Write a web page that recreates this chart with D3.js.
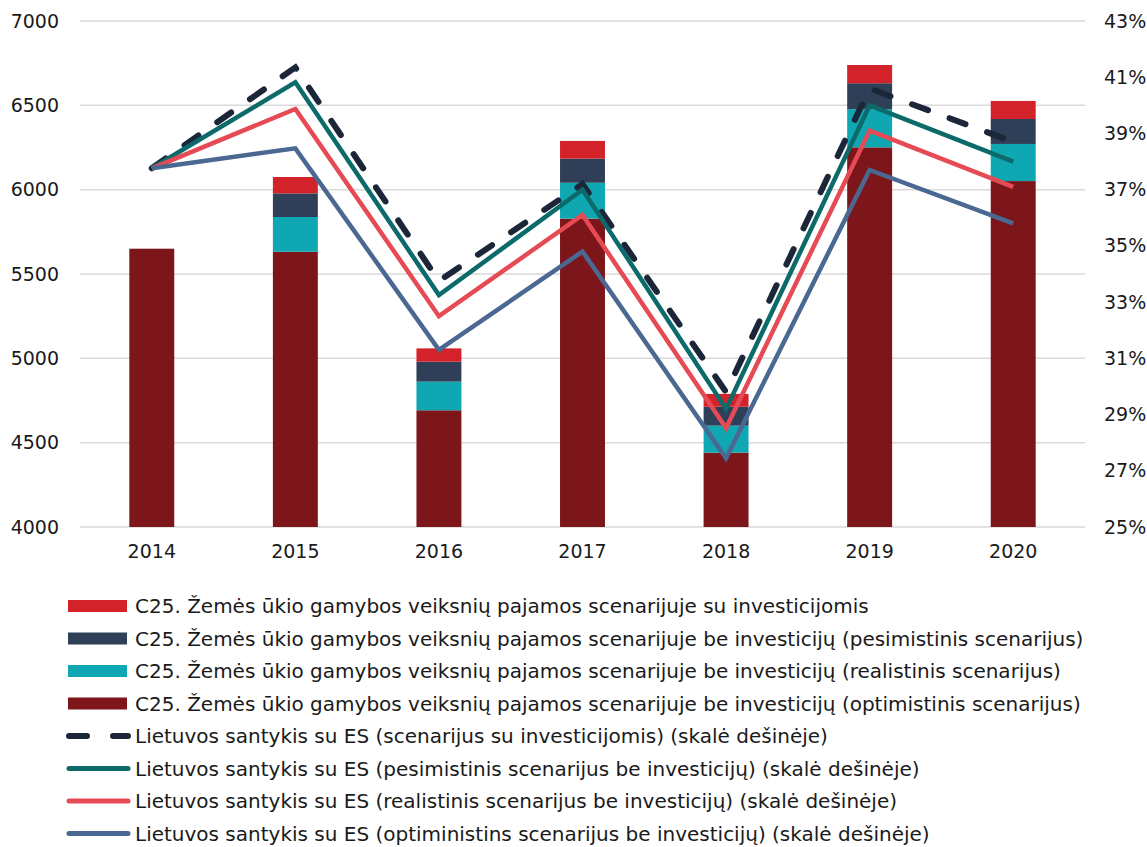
<!DOCTYPE html>
<html>
<head>
<meta charset="utf-8">
<script src="https://cdn.jsdelivr.net/npm/d3@7"></script>
<style>
  html, body { margin: 0; padding: 0; background: #ffffff; }
  svg { display: block; }
  text { font-family: "DejaVu Sans", Verdana, sans-serif; fill: #1a1a1a; }
</style>
</head>
<body>
<svg id="chart" width="1147" height="847"></svg>
<script>
// Years on the category axis
const years = ["2014", "2015", "2016", "2017", "2018", "2019", "2020"];

// Stacked bar segments (EUR), bottom to top
const incomeOptimistic  = [5650, 5632, 4692, 5828, 4441, 6251, 6051];
const incomeRealistic   = [0, 206, 170, 213, 160, 226, 220];
const incomePessimistic = [0, 140, 118, 143, 112, 154, 148];
const incomeInvestment  = [0, 97, 79, 105, 76, 108, 107];

// Ratio to EU average (%), right-hand scale
const ratioInvestment  = [37.76, 41.35, 33.75, 37.2, 29.8, 40.6, 38.7];
const ratioPessimistic = [37.76, 40.82, 33.25, 37.0, 29.2, 40.0, 38.0];
const ratioRealistic   = [37.76, 39.87, 32.5, 36.1, 28.52, 39.1, 37.1];
const ratioOptimistic  = [37.76, 38.47, 31.3, 34.8, 27.45, 37.7, 35.8];

// Tick values
const leftTicks  = [4000, 4500, 5000, 5500, 6000, 6500, 7000];
const rightTicks = [25, 27, 29, 31, 33, 35, 37, 39, 41, 43];

const barSeries = [
  { name: "C25. Žemės ūkio gamybos veiksnių pajamos scenarijuje be investicijų (optimistinis scenarijus)", values: incomeOptimistic,  color: "#7c161a" },
  { name: "C25. Žemės ūkio gamybos veiksnių pajamos scenarijuje be investicijų (realistinis scenarijus)",  values: incomeRealistic,   color: "#0fa7b2" },
  { name: "C25. Žemės ūkio gamybos veiksnių pajamos scenarijuje be investicijų (pesimistinis scenarijus)", values: incomePessimistic, color: "#2e3f57" },
  { name: "C25. Žemės ūkio gamybos veiksnių pajamos scenarijuje su investicijomis",                        values: incomeInvestment,  color: "#d3222a" }
];

const lineSeries = [
  { name: "Lietuvos santykis su ES (scenarijus su investicijomis) (skalė dešinėje)",            values: ratioInvestment,  color: "#1b2739", dashed: true },
  { name: "Lietuvos santykis su ES (pesimistinis scenarijus be investicijų) (skalė dešinėje)",   values: ratioPessimistic, color: "#0d6a6a" },
  { name: "Lietuvos santykis su ES (realistinis scenarijus be investicijų) (skalė dešinėje)",    values: ratioRealistic,   color: "#e64b55" },
  { name: "Lietuvos santykis su ES (optiministins scenarijus be investicijų) (skalė dešinėje)",  values: ratioOptimistic,  color: "#4a6891" }
];

const svg = d3.select("#chart");
const plot = { left: 80, right: 1085, top: 21, bottom: 527 };

const x = d3.scaleBand()
  .domain(years)
  .range([plot.left, plot.right])
  .paddingInner(0.687)
  .paddingOuter(0.3435);

const yLeft = d3.scaleLinear().domain([4000, 7000]).range([plot.bottom, plot.top]);
const yRight = d3.scaleLinear().domain([25, 43]).range([plot.bottom, plot.top]);

// Bars start at the axis floor, so clip them to the plotting area
svg.append("defs").append("clipPath").attr("id", "plot-clip")
  .append("rect")
  .attr("x", plot.left).attr("y", 0)
  .attr("width", plot.right - plot.left)
  .attr("height", plot.bottom);

// Horizontal gridlines
svg.append("g")
  .selectAll("line")
  .data(leftTicks)
  .join("line")
  .attr("x1", plot.left)
  .attr("x2", plot.right)
  .attr("y1", d => yLeft(d))
  .attr("y2", d => yLeft(d))
  .attr("stroke", "#d9d9d9")
  .attr("stroke-width", 1.5);

const tickFont = g => g.selectAll("text")
  .style("font-size", "19px")
  .style("font-family", "DejaVu Sans, sans-serif")
  .attr("fill", "#1a1a1a");

// Left axis labels
const gl = svg.append("g").attr("transform", "translate(59,0)")
  .call(d3.axisLeft(yLeft).tickValues(leftTicks).tickSize(0).tickPadding(0).tickFormat(d3.format("d")));
gl.select(".domain").remove();
tickFont(gl);

// Right axis labels
const gr = svg.append("g").attr("transform", "translate(1104,0)")
  .call(d3.axisRight(yRight).tickValues(rightTicks).tickSize(0).tickPadding(0).tickFormat(d => d + "%"));
gr.select(".domain").remove();
tickFont(gr);

// Category labels
const gb = svg.append("g").attr("transform", `translate(0,${plot.bottom + 17})`)
  .call(d3.axisBottom(x).tickSize(0).tickPadding(0));
gb.select(".domain").remove();
tickFont(gb);

// Stacked bars
const stackRows = years.map((yr, i) => {
  const row = { year: yr };
  barSeries.forEach((s, k) => { row["s" + k] = s.values[i]; });
  return row;
});
const stacked = d3.stack().keys(barSeries.map((s, k) => "s" + k))(stackRows);

svg.append("g")
  .attr("clip-path", "url(#plot-clip)")
  .selectAll("g")
  .data(stacked)
  .join("g")
  .attr("fill", (d, k) => barSeries[k].color)
  .selectAll("rect")
  .data(d => d.filter(p => p[1] > p[0]))
  .join("rect")
  .attr("x", d => x(d.data.year))
  .attr("width", x.bandwidth())
  .attr("y", d => yLeft(d[1]))
  .attr("height", d => yLeft(Math.max(d[0], 4000)) - yLeft(d[1]));

// Ratio lines
const line = d3.line()
  .x((d, i) => x(years[i]) + x.bandwidth() / 2)
  .y(d => yRight(d));

svg.append("g")
  .selectAll("path")
  .data(lineSeries)
  .join("path")
  .attr("d", d => line(d.values))
  .attr("fill", "none")
  .attr("stroke", d => d.color)
  .attr("stroke-width", d => d.dashed ? 6 : 4.5)
  .attr("stroke-linejoin", "miter")
  .attr("stroke-linecap", d => d.dashed ? "round" : "butt")
  .attr("stroke-dasharray", d => d.dashed ? "17,23" : null);

// Legend
const legendItems = [
  { kind: "bar", s: barSeries[3] },
  { kind: "bar", s: barSeries[2] },
  { kind: "bar", s: barSeries[1] },
  { kind: "bar", s: barSeries[0] },
  { kind: "line", s: lineSeries[0] },
  { kind: "line", s: lineSeries[1] },
  { kind: "line", s: lineSeries[2] },
  { kind: "line", s: lineSeries[3] }
];

const rows = svg.append("g").selectAll("g")
  .data(legendItems)
  .join("g")
  .attr("transform", (d, i) => `translate(0,${606 + i * 32.5})`);

rows.filter(d => d.kind === "bar")
  .append("rect")
  .attr("x", 68)
  .attr("y", -6)
  .attr("width", 59)
  .attr("height", 12)
  .attr("fill", d => d.s.color);

rows.filter(d => d.kind === "line")
  .append("line")
  .attr("x1", 69)
  .attr("x2", 128)
  .attr("y1", 0)
  .attr("y2", 0)
  .attr("stroke", d => d.s.color)
  .attr("stroke-width", d => d.s.dashed ? 6 : 5)
  .attr("stroke-linecap", "round")
  .attr("stroke-dasharray", d => d.s.dashed ? "18,26" : null);

rows.append("text")
  .attr("x", 135)
  .attr("y", 0)
  .attr("dy", "0.35em")
  .style("font-size", "20px")
  .text(d => d.s.name);
</script>
</body>
</html>
